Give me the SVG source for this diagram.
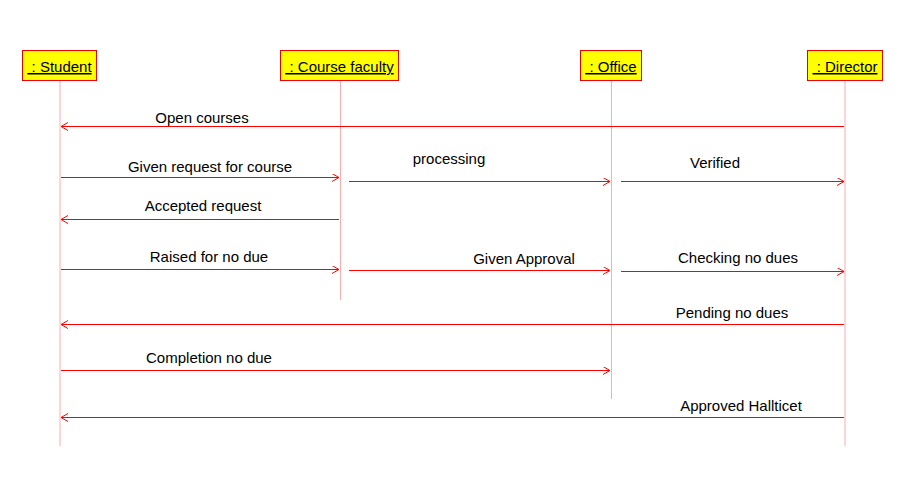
<svg xmlns="http://www.w3.org/2000/svg" width="902" height="485" viewBox="0 0 902 485">
<style>
.box{fill:#ffff00;stroke:#ee0000;stroke-width:1}
.life{stroke:#ffaaaa;stroke-width:1}
.msg{stroke:#ff0000;stroke-width:1;fill:none;marker-end:url(#ah)}
.lbl{font-family:"Liberation Sans",Arial,sans-serif;font-size:15px;fill:#000;text-anchor:middle}
.nm{font-family:"Liberation Sans",Arial,sans-serif;font-size:15px;fill:#000;text-anchor:middle;text-decoration:underline}
</style>
<defs>
<marker id="ah" markerUnits="userSpaceOnUse" markerWidth="10" markerHeight="10" refX="7" refY="4" orient="auto">
<path d="M0,0 L7,4 L0,8" fill="none" stroke="#ff0000" stroke-width="1"/>
</marker>
</defs>
<rect width="902" height="485" fill="#ffffff"/>
<g id="student">
<line class="life" x1="60" y1="81" x2="60" y2="446"/>
<rect class="box" x="22.5" y="50.5" width="74" height="30"/>
<text class="nm" x="59.5" y="72" xml:space="preserve"> : Student</text>
</g>
<g id="course-faculty">
<line class="life" x1="340.5" y1="81" x2="340.5" y2="300"/>
<rect class="box" x="280.5" y="50.5" width="118" height="30"/>
<text class="nm" x="339.5" y="72" xml:space="preserve"> : Course faculty</text>
</g>
<g id="office">
<line class="life" x1="611.5" y1="81" x2="611.5" y2="399"/>
<rect class="box" x="580.5" y="50.5" width="61" height="30"/>
<text class="nm" x="611" y="72" xml:space="preserve"> : Office</text>
</g>
<g id="director">
<line class="life" x1="845" y1="81" x2="845" y2="446"/>
<rect class="box" x="807.5" y="50.5" width="75" height="30"/>
<text class="nm" x="845" y="72" xml:space="preserve"> : Director</text>
</g>
<g id="connectors">
<line class="msg" x1="844" y1="126.5" x2="61" y2="126.5"/>
<text class="lbl" x="202" y="123">Open courses</text>
<line class="msg" x1="61" y1="177.5" x2="339" y2="177.5"/>
<text class="lbl" x="210" y="172">Given request for course</text>
<line class="msg" x1="349" y1="181.5" x2="610" y2="181.5"/>
<text class="lbl" x="449" y="164">processing</text>
<line class="msg" x1="621" y1="181.5" x2="844" y2="181.5"/>
<text class="lbl" x="715" y="168">Verified</text>
<line class="msg" x1="339" y1="219.5" x2="61" y2="219.5"/>
<text class="lbl" x="203" y="211">Accepted request</text>
<line class="msg" x1="61" y1="269.5" x2="339" y2="269.5"/>
<text class="lbl" x="209" y="262">Raised for no due</text>
<line class="msg" x1="349" y1="270.5" x2="610" y2="270.5"/>
<text class="lbl" x="524" y="264">Given Approval</text>
<line class="msg" x1="621" y1="271.5" x2="844" y2="271.5"/>
<text class="lbl" x="738" y="263">Checking no dues</text>
<line class="msg" x1="844" y1="324.5" x2="61" y2="324.5"/>
<text class="lbl" x="732" y="318">Pending no dues</text>
<line class="msg" x1="61" y1="370.5" x2="610" y2="370.5"/>
<text class="lbl" x="209" y="363">Completion no due</text>
<line class="msg" x1="844" y1="417.5" x2="61" y2="417.5"/>
<text class="lbl" x="741" y="411">Approved Hallticet</text>
</g>
</svg>
